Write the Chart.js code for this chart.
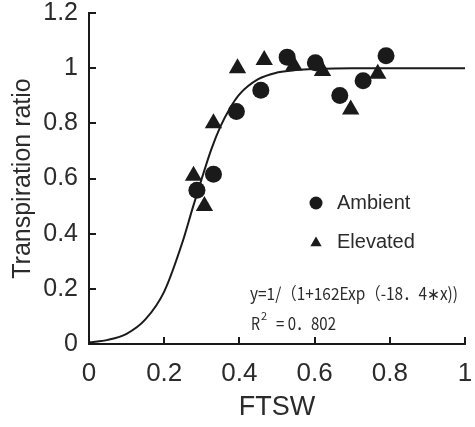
<!DOCTYPE html>
<html>
<head>
<meta charset="utf-8">
<script src="https://cdn.jsdelivr.net/npm/chart.js@4"></script>
<style>
  html, body { margin: 0; padding: 0; background: #fff; }
</style>
</head>
<body>
<canvas id="myChart" width="475" height="427"></canvas>
<script>
const ambientX = [0.287, 0.331, 0.392, 0.457, 0.527, 0.602, 0.667, 0.729, 0.790];
const ambientY = [0.557, 0.615, 0.843, 0.920, 1.040, 1.020, 0.901, 0.954, 1.045];

const elevatedX = [0.278, 0.307, 0.331, 0.395, 0.466, 0.545, 0.621, 0.696, 0.768];
const elevatedY = [0.610, 0.500, 0.800, 1.000, 1.030, 1.010, 0.990, 0.850, 0.980];

// fitted curve
const curveX = [0, 0.05, 0.1, 0.15, 0.2, 0.25, 0.275, 0.3, 0.325, 0.35, 0.375, 0.4, 0.45, 0.5, 0.55, 0.6, 0.7, 0.8, 0.9, 1.0];
const curveY = [0.006, 0.015, 0.037, 0.089, 0.19, 0.375, 0.49, 0.6, 0.705, 0.79, 0.855, 0.905, 0.96, 0.984, 0.993, 0.997, 1.0, 1.0, 1.0, 1.0];

const legendLabels = ['Ambient', 'Elevated'];
const fitText = 'y=1/（1+162Exp（-18．4∗x))';
const r2Text = '= 0．802';

const ink = '#1a1a1a';
const textColor = '#2b2b2b';
const fontFamily = '"Liberation Sans", Arial, sans-serif';
const eqFont = '"Noto Sans CJK JP"';

function toPoints(xs, ys) {
  return xs.map((x, i) => ({ x: x, y: ys[i] }));
}

// draw text squeezed/stretched to a given width
function fitWidth(ctx, text, x, y, width) {
  const w = ctx.measureText(text).width;
  ctx.save();
  ctx.translate(x, y);
  ctx.scale(width / w, 1);
  ctx.fillText(text, 0, 0);
  ctx.restore();
}

const extras = {
  id: 'extras',
  afterDraw(chart) {
    const ctx = chart.ctx;
    ctx.save();
    ctx.fillStyle = ink;

    // legend markers
    ctx.beginPath();
    ctx.arc(316, 203, 6.5, 0, Math.PI * 2);
    ctx.fill();
    const r = 6.5;
    ctx.beginPath();
    ctx.moveTo(316, 243 - r);
    ctx.lineTo(316 + r * 0.866, 243 + r / 2);
    ctx.lineTo(316 - r * 0.866, 243 + r / 2);
    ctx.closePath();
    ctx.fill();

    ctx.fillStyle = textColor;
    ctx.font = '20px ' + fontFamily;
    ctx.textBaseline = 'middle';
    ctx.textAlign = 'left';
    ctx.fillText(legendLabels[0], 337, 203);
    ctx.fillText(legendLabels[1], 337, 242);

    // fit equation
    ctx.textBaseline = 'alphabetic';
    ctx.font = '17px ' + eqFont;
    fitWidth(ctx, fitText, 250, 300, 208);

    ctx.font = '17px ' + eqFont;
    fitWidth(ctx, 'R', 251, 330, 9);
    ctx.font = '11px ' + eqFont;
    ctx.fillText('2', 261, 320);
    ctx.font = '17px ' + eqFont;
    fitWidth(ctx, r2Text, 276, 330, 60);

    ctx.restore();
  }
};

const tickFmt = v => String(Math.round(v * 10) / 10);

const config = {
  type: 'scatter',
  data: {
    datasets: [
      {
        label: 'fit',
        data: toPoints(curveX, curveY),
        showLine: true,
        borderColor: ink,
        borderWidth: 2,
        pointRadius: 0,
        cubicInterpolationMode: 'monotone',
        order: 3
      },
      {
        label: legendLabels[0],
        data: toPoints(ambientX, ambientY),
        pointStyle: 'circle',
        pointRadius: 8.5,
        backgroundColor: ink,
        borderWidth: 0,
        order: 1
      },
      {
        label: legendLabels[1],
        data: toPoints(elevatedX, elevatedY),
        pointStyle: 'triangle',
        pointRadius: 10,
        backgroundColor: ink,
        borderWidth: 0,
        order: 2
      }
    ]
  },
  options: {
    responsive: false,
    animation: false,
    layout: { padding: { top: 13, right: 5, left: 0, bottom: 0 } },
    plugins: {
      legend: { display: false },
      tooltip: { enabled: false }
    },
    scales: {
      x: {
        type: 'linear',
        min: 0,
        max: 1,
        ticks: {
          stepSize: 0.2,
          padding: 21,
          color: textColor,
          font: { family: fontFamily, size: 26, lineHeight: 1.2 },
          maxRotation: 0,
          callback: tickFmt
        },
        grid: {
          drawOnChartArea: false,
          drawTicks: true,
          tickLength: -7,
          tickColor: ink,
          lineWidth: 2
        },
        border: { display: true, color: ink, width: 2 },
        title: {
          display: true,
          text: 'FTSW',
          color: textColor,
          font: { family: fontFamily, size: 27, lineHeight: 1.2 },
          padding: { top: 0, bottom: 3 }
        },
        afterFit(scale) {
          scale.height = 83;
          scale.paddingLeft = 0;
          scale.paddingRight = 0;
        }
      },
      y: {
        type: 'linear',
        min: 0,
        max: 1.2,
        ticks: {
          stepSize: 0.2,
          padding: 18,
          color: textColor,
          font: { family: fontFamily, size: 25, lineHeight: 1.2 },
          callback: tickFmt
        },
        grid: {
          drawOnChartArea: false,
          drawTicks: true,
          tickLength: -7,
          tickColor: ink,
          lineWidth: 2
        },
        border: { display: true, color: ink, width: 2 },
        title: {
          display: true,
          text: 'Transpiration ratio',
          color: textColor,
          font: { family: fontFamily, size: 25, lineHeight: 1.2 },
          padding: { top: 8, bottom: 0 }
        },
        afterFit(scale) {
          scale.width = 89;
          scale.paddingTop = 0;
          scale.paddingBottom = 0;
        }
      }
    }
  },
  plugins: [extras]
};

const myChart = new Chart(document.getElementById('myChart'), config);
</script>
</body>
</html>
